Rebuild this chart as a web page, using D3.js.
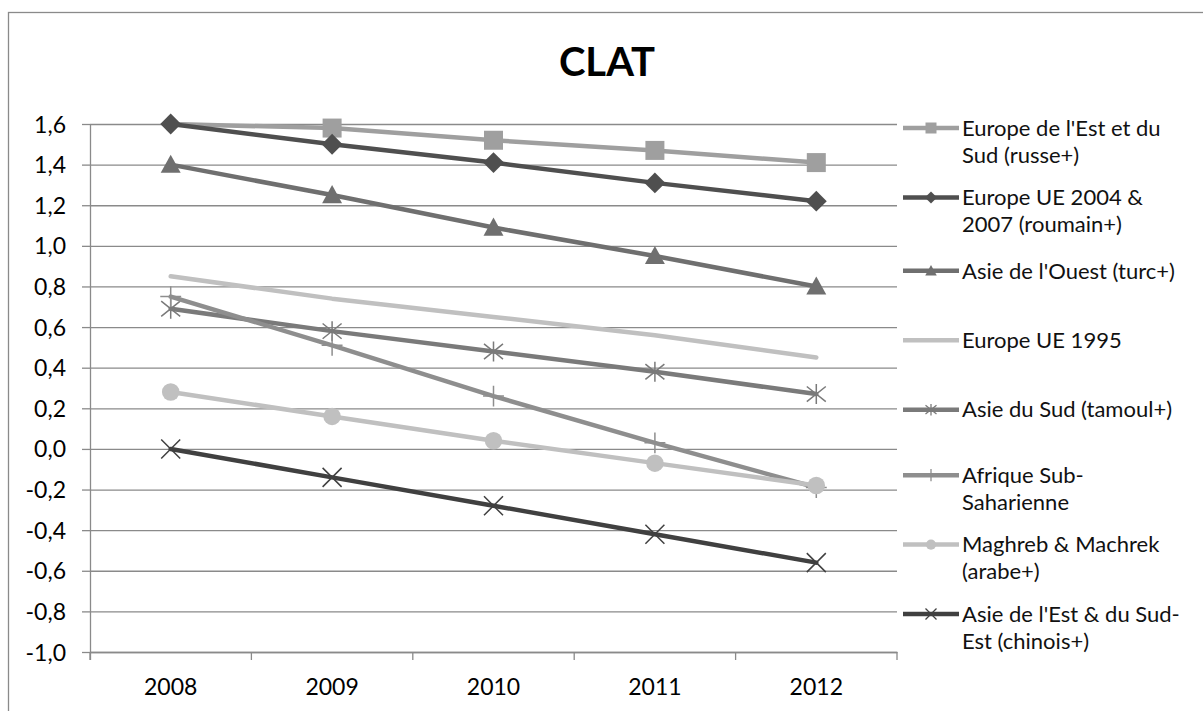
<!DOCTYPE html>
<html><head><meta charset="utf-8">
<script src="https://cdn.jsdelivr.net/npm/d3@7"></script>
<style>
html,body{margin:0;padding:0;background:#fff;}
svg{display:block;}
text{font-family:Lato,"Liberation Sans",sans-serif;}
</style></head>
<body>
<svg id="chart" width="1203" height="711"></svg>
<script>
// ---------- data ----------
const years = ["2008", "2009", "2010", "2011", "2012"];
const yTicks = [-1.0, -0.8, -0.6, -0.4, -0.2, 0.0, 0.2, 0.4, 0.6, 0.8, 1.0, 1.2, 1.4, 1.6];
const title = "CLAT";

const europeEstSud = [1.60, 1.58, 1.52, 1.47, 1.41];
const europeUE2004 = [1.60, 1.50, 1.41, 1.31, 1.22];
const asieOuest    = [1.40, 1.25, 1.09, 0.95, 0.80];
const europeUE1995 = [0.85, 0.74, 0.65, 0.56, 0.45];
const asieSud      = [0.69, 0.58, 0.48, 0.38, 0.27];
const afriqueSub   = [0.75, 0.51, 0.26, 0.03, -0.19];
const maghreb      = [0.28, 0.16, 0.04, -0.07, -0.18];
const asieEst      = [0.00, -0.14, -0.28, -0.42, -0.56];

const seriesLabels = [
  ["Europe de l'Est et du", "Sud (russe+)"],
  ["Europe UE 2004 &", "2007 (roumain+)"],
  ["Asie de l'Ouest (turc+)"],
  ["Europe UE 1995"],
  ["Asie du Sud (tamoul+)"],
  ["Afrique Sub-", "Saharienne"],
  ["Maghreb & Machrek", "(arabe+)"],
  ["Asie de l'Est & du Sud-", "Est (chinois+)"]
];
const seriesValues = [europeEstSud, europeUE2004, asieOuest, europeUE1995, asieSud, afriqueSub, maghreb, asieEst];
const seriesColors = ["#9f9f9f", "#4f4f4f", "#6f6f6f", "#c0c0c0", "#7a7a7a", "#8e8e8e", "#c0c0c0", "#404040"];
const seriesMarkers = ["square", "diamond", "triangle", "none", "star", "plus", "circle", "x"];
// points whose marker is not shown in the original (first point of series 1)
const hiddenMarkers = [["2008"], [], [], [], [], [], [], []];

// ---------- layout ----------
const svg = d3.select("#chart");
const plot = {left: 90, right: 897, top: 124, bottom: 652};

const x = d3.scaleBand().domain(years).range([plot.left, plot.right]).padding(0);
const xc = d => x(d) + x.bandwidth() / 2;
const y = d3.scaleLinear().domain([-1.0, 1.6]).range([plot.bottom, plot.top]);
const fmt = v => d3.format(".1f")(v).replace(".", ",").replace("\u2212", "-");

// outer border
svg.append("rect").attr("x", 8.5).attr("y", 12.5).attr("width", 1400).attr("height", 900)
  .attr("fill", "none").attr("stroke", "#8a8a8a").attr("stroke-width", 1.3);

// title
svg.append("text").attr("x", 607).attr("y", 76).attr("text-anchor", "middle")
  .attr("font-size", 40).attr("font-weight", "bold").attr("fill", "#000").text(title);

// gridlines
const grid = svg.append("g").attr("transform", `translate(${plot.left},0)`)
  .call(d3.axisLeft(y).tickValues(yTicks).tickSize(-(plot.right - plot.left)).tickFormat(""));
grid.select(".domain").remove();
grid.selectAll("line").attr("stroke", "#8a8a8a").attr("stroke-width", 1.3);

// y axis
const yAxis = svg.append("g").attr("transform", `translate(${plot.left},0)`)
  .call(d3.axisLeft(y).tickValues(yTicks).tickSize(8).tickSizeOuter(0).tickPadding(16).tickFormat(fmt));
yAxis.select(".domain").attr("stroke", "#8a8a8a").attr("stroke-width", 1.3)
  .attr("d", `M0.5,${plot.top}V${plot.bottom + 8}`);
yAxis.selectAll("line").attr("stroke", "#8a8a8a").attr("stroke-width", 1.3);
yAxis.selectAll("text").attr("font-size", 23).attr("fill", "#000").attr("dy", "0.35em");

// x axis
const xAxis = svg.append("g").attr("transform", `translate(0,${plot.bottom})`)
  .call(d3.axisBottom(x).tickSize(0).tickPadding(27));
xAxis.select(".domain").attr("stroke", "#8a8a8a").attr("stroke-width", 1.3);
xAxis.selectAll("text").attr("font-size", 23).attr("fill", "#000");
const bounds = years.map(d => x(d)).concat([x(years[years.length - 1]) + x.bandwidth()]);
xAxis.selectAll("line.bound").data(bounds).enter().append("line").attr("class", "bound")
  .attr("x1", d => d).attr("x2", d => d).attr("y1", 0).attr("y2", 8)
  .attr("stroke", "#8a8a8a").attr("stroke-width", 1.3);

// markers
function markerPath(type, s) {
  const h = s / 2;
  switch (type) {
    case "square": return `M${-h},${-h}H${h}V${h}H${-h}Z`;
    case "diamond": return `M0,${-h * 1.1}L${h * 1.1},0L0,${h * 1.1}L${-h * 1.1},0Z`;
    case "triangle": return `M0,${-h * 1.05}L${h * 1.05},${h * 0.85}L${-h * 1.05},${h * 0.85}Z`;
    case "circle": return d3.symbol(d3.symbolCircle, Math.PI * h * h * 0.85)();
    case "plus": return `M0,${-h * 1.1}V${h * 1.1}M${-h * 1.1},0H${h * 1.1}`;
    case "x": return `M${-h},${-h}L${h},${h}M${h},${-h}L${-h},${h}`;
    case "star": return `M0,${-h * 1.05}V${h * 1.05}M${-h},${-h * 0.8}L${h},${h * 0.8}M${h},${-h * 0.8}L${-h},${h * 0.8}`;
    default: return "";
  }
}
const filled = t => ["square", "diamond", "triangle", "circle"].includes(t);

const line = d3.line().x((d, i) => xc(years[i])).y(d => y(d));

seriesValues.forEach((vals, si) => {
  const g = svg.append("g");
  const col = seriesColors[si];
  g.append("path").attr("d", line(vals)).attr("fill", "none").attr("stroke", col)
    .attr("stroke-width", 4.5).attr("stroke-linejoin", "round").attr("stroke-linecap", "round");
  const m = seriesMarkers[si];
  if (m !== "none") {
    const pts = vals.map((v, i) => ({year: years[i], v})).filter(p => !hiddenMarkers[si].includes(p.year));
    g.selectAll("path.mk").data(pts).enter().append("path").attr("class", "mk")
      .attr("transform", p => `translate(${xc(p.year)},${y(p.v)})`)
      .attr("d", markerPath(m, 19))
      .attr("fill", filled(m) ? col : "none")
      .attr("stroke", filled(m) ? "none" : col)
      .attr("stroke-width", 1.5);
  }
});

// legend
const legendY = d3.scaleLinear().domain([0, seriesLabels.length - 1]).range([128, 614]);
seriesLabels.forEach((lines, si) => {
  const cy = legendY(si) + (lines.length === 1 ? 4 : 0);
  const g = svg.append("g").attr("transform", `translate(0,${cy})`);
  const col = seriesColors[si];
  g.append("line").attr("x1", 903).attr("x2", 959).attr("y1", 0).attr("y2", 0)
    .attr("stroke", col).attr("stroke-width", 4.5);
  const m = seriesMarkers[si];
  if (m !== "none") {
    g.append("path").attr("transform", "translate(931,0)").attr("d", markerPath(m, 11))
      .attr("fill", filled(m) ? col : "none").attr("stroke", filled(m) ? "none" : col)
      .attr("stroke-width", 1.3);
  }
  lines.forEach((t, li) => {
    g.append("text").attr("x", 962).attr("y", li * 27).attr("dy", "0.35em")
      .attr("font-size", 22).attr("fill", "#111").text(t);
  });
});
</script>
</body></html>
